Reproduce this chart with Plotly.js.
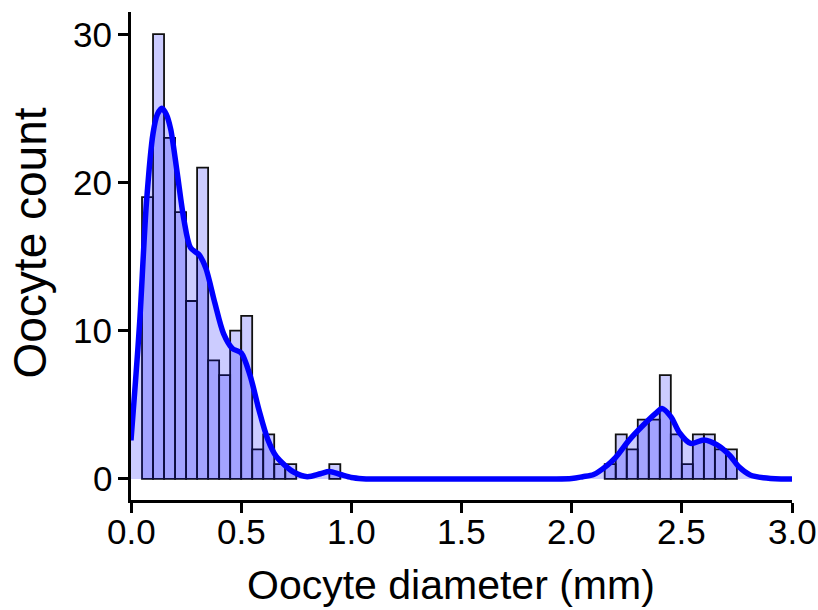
<!DOCTYPE html>
<html>
<head>
<meta charset="utf-8">
<script src="https://cdn.plot.ly/plotly-3.0.1.min.js"></script>
<style>
  html, body { margin: 0; padding: 0; background: #ffffff; }
  #chart { width: 818px; height: 610px; }
</style>
</head>
<body>
<div id="chart"></div>
<script>
// Histogram bins (left edge, mm) and counts
const binWidth = 0.05;
const binStart = [0.05, 0.10, 0.15, 0.20, 0.25, 0.30, 0.35, 0.40, 0.45, 0.50, 0.55, 0.60, 0.65, 0.70, 0.90,
                  2.15, 2.20, 2.25, 2.30, 2.35, 2.40, 2.45, 2.50, 2.55, 2.60, 2.65, 2.70];
const binCount = [19, 30, 23, 18, 12, 21, 8, 7, 10, 11, 2, 3, 1, 1, 1,
                  1, 3, 2, 4, 4, 7, 3, 1, 3, 3, 2, 2];

// Density curve (scaled to counts)
const kdeX = [0.00, 0.02, 0.04, 0.07, 0.10, 0.12, 0.14, 0.16, 0.18, 0.21, 0.24, 0.27, 0.31, 0.34, 0.38,
              0.42, 0.46, 0.50, 0.54, 0.58, 0.62, 0.66, 0.70, 0.74, 0.80, 0.86, 0.90, 0.95, 1.00, 1.05,
              1.10, 1.50, 2.00, 2.05, 2.10, 2.16, 2.20, 2.26, 2.32, 2.38, 2.41, 2.45, 2.49, 2.54, 2.60,
              2.66, 2.72, 2.76, 2.81, 2.87, 2.95, 3.00];
const kdeY = [2.6, 6.5, 10.7, 18.6, 23.3, 24.6, 25.0, 24.6, 23.6, 20.6, 17.5, 15.6, 15.1, 14.2, 11.9,
              9.8, 8.8, 8.5, 7.0, 4.7, 2.7, 1.5, 0.9, 0.45, 0.15, 0.35, 0.5, 0.3, 0.1, 0.02,
              0.0, 0.0, 0.03, 0.15, 0.3, 0.9, 1.45, 2.6, 3.55, 4.4, 4.75, 4.2, 3.1, 2.4, 2.63,
              2.3, 1.55, 0.8, 0.27, 0.08, 0.0, 0.0];

const xTickVals = [0, 0.5, 1.0, 1.5, 2.0, 2.5, 3.0];
const xTickText = ['0.0', '0.5', '1.0', '1.5', '2.0', '2.5', '3.0'];
const yTickVals = [0, 10, 20, 30];
const yTickText = ['0', '10', '20', '30'];

const xTitle = 'Oocyte diameter (mm)';
const yTitle = 'Oocyte count';

const binCenter = binStart.map(s => s + binWidth / 2);

const FONT = 'Arial, "Liberation Sans", Helvetica, sans-serif';
const TICKFONT = { family: FONT, size: 35, color: '#000000' };

// plot-area geometry in pixels (used only to place labels)
const PL = 131, PR = 792, PT = 12, PB = 500;
const PW = PR - PL, PH = PB - PT;

const traces = [
  {
    type: 'bar',
    x: binCenter,
    y: binCount,
    width: binStart.map(() => binWidth),
    marker: { color: 'rgba(0,0,255,0.2)', line: { color: '#111111', width: 1.8 } },
    hoverinfo: 'x+y',
    showlegend: false
  },
  {
    type: 'scatter',
    mode: 'lines',
    x: kdeX,
    y: kdeY,
    fill: 'tozeroy',
    fillcolor: 'rgba(0,0,255,0.2)',
    line: { color: '#0000ff', width: 5.5, shape: 'spline', smoothing: 0.8 },
    showlegend: false
  }
];

const annotations = [];
xTickVals.forEach((v, i) => annotations.push({
  text: xTickText[i], xref: 'x', yref: 'paper', x: v, y: (PB - 531) / PH,
  xanchor: 'center', yanchor: 'middle', showarrow: false, font: TICKFONT
}));
yTickVals.forEach((v, i) => annotations.push({
  text: yTickText[i], xref: 'paper', yref: 'y', x: (114 - PL) / PW, y: v,
  xanchor: 'right', yanchor: 'middle', showarrow: false, font: TICKFONT
}));
annotations.push({
  text: xTitle, xref: 'paper', yref: 'paper',
  x: (451 - PL) / PW, y: (PB - 585) / PH,
  xanchor: 'center', yanchor: 'middle', showarrow: false,
  font: { family: FONT, size: 41, color: '#000000' }
});
annotations.push({
  text: yTitle, xref: 'paper', yref: 'paper',
  x: (29 - PL) / PW, y: (PB - 243.5) / PH,
  xanchor: 'center', yanchor: 'middle', textangle: -90, showarrow: false,
  font: { family: FONT, size: 46, color: '#000000' }
});

const layout = {
  width: 818,
  height: 610,
  margin: { l: PL, r: 818 - PR, t: PT, b: 610 - PB, pad: 0 },
  paper_bgcolor: '#ffffff',
  plot_bgcolor: '#ffffff',
  bargap: 0,
  font: { family: FONT, color: '#000000', size: 35 },
  xaxis: {
    range: [0, 3.0],
    tickvals: xTickVals,
    showticklabels: false,
    showgrid: false,
    zeroline: false,
    showline: true,
    linecolor: '#000000',
    linewidth: 3,
    ticks: 'outside',
    ticklen: 10,
    tickwidth: 3,
    tickcolor: '#000000'
  },
  yaxis: {
    range: [-1.42, 31.49],
    tickvals: yTickVals,
    showticklabels: false,
    showgrid: false,
    zeroline: false,
    showline: true,
    linecolor: '#000000',
    linewidth: 3,
    ticks: 'outside',
    ticklen: 10,
    tickwidth: 3,
    tickcolor: '#000000'
  },
  annotations: annotations
};

Plotly.newPlot('chart', traces, layout, { staticPlot: true, displayModeBar: false });
</script>
</body>
</html>
